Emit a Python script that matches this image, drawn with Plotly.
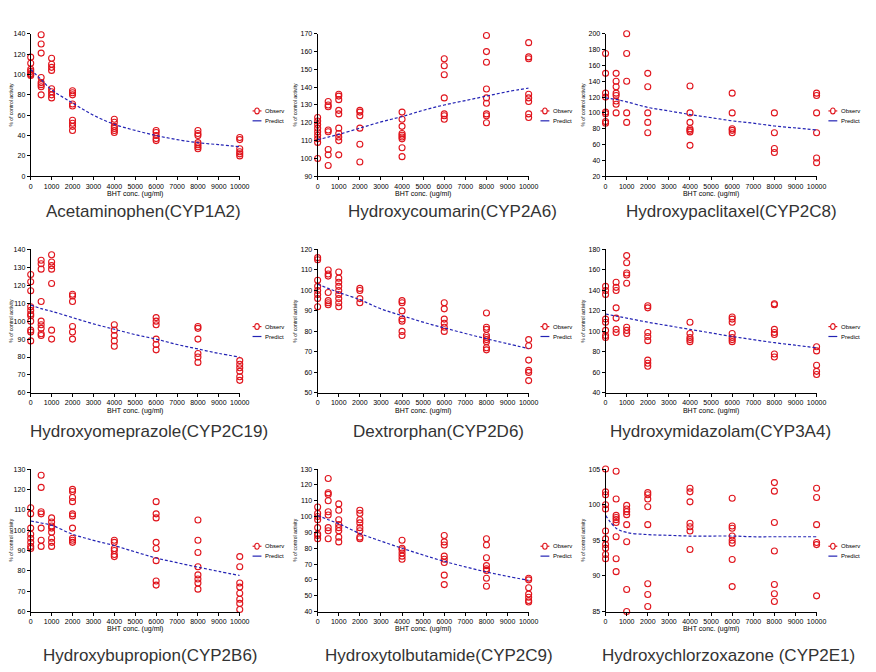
import plotly.graph_objects as go

# ---------------- data ----------------
CONC_LEVELS = [0, 500, 1000, 2000, 4000, 6000, 8000, 10000]
PRED_X = [0, 500, 1000, 2000, 3000, 4000, 5000, 6000, 7000, 8000, 9000, 10000]
X_TICKS = [0, 1000, 2000, 3000, 4000, 5000, 6000, 7000, 8000, 9000, 10000]

TITLES = [
    "Acetaminophen(CYP1A2)", "Hydroxycoumarin(CYP2A6)", "Hydroxypaclitaxel(CYP2C8)",
    "Hydroxyomeprazole(CYP2C19)", "Dextrorphan(CYP2D6)", "Hydroxymidazolam(CYP3A4)",
    "Hydroxybupropion(CYP2B6)", "Hydroxytolbutamide(CYP2C9)", "Hydroxychlorzoxazone (CYP2E1)",
]
LEGEND_NAMES = ["Observ", "Predict"]
X_TITLE = "BHT conc. (ug/ml)"
Y_TITLE = "% of control activity"

# observed values, one list per concentration level
obs_cyp1a2 = [[117, 111, 105, 103, 101, 100, 99], [139, 130, 121, 97, 92, 90, 88, 80],
              [116, 110, 107, 104, 86, 83, 80, 77], [84, 82, 80, 71, 69, 55, 52, 49, 45],
              [56, 53, 49, 47, 45, 43], [45, 43, 40, 37, 35], [45, 42, 40, 33, 31, 29, 27],
              [38, 36, 27, 24, 22, 20]]
obs_cyp2a6 = [[123, 121, 119, 117, 115, 113, 111, 109, 100], [132, 130, 129, 116, 115, 105, 102, 96],
              [136, 135, 133, 127, 125, 117, 114, 112, 110, 102], [127, 126, 124, 117, 108, 98],
              [126, 122, 118, 114, 113, 112, 111, 106, 101], [156, 152, 147, 134, 125, 124, 122],
              [169, 160, 154, 139, 134, 131, 125, 124, 120], [165, 157, 156, 136, 134, 132, 125, 123]]
obs_cyp2c8 = [[175, 150, 125, 120, 101, 99, 89, 87], [150, 140, 133, 125, 122, 115, 111, 100],
              [200, 175, 140, 100, 88], [150, 133, 100, 88, 75], [134, 100, 88, 80, 78, 76, 59],
              [125, 100, 80, 78, 75], [100, 75, 55, 50], [125, 122, 100, 75, 43, 37]]
obs_cyp2c19 = [[126, 122, 117, 108, 106, 104, 103, 100, 95, 94, 89], [134, 132, 129, 111, 100, 98, 96, 93, 92],
               [137, 133, 131, 129, 121, 95, 90], [115, 114, 111, 97, 94, 90], [98, 95, 92, 89, 86],
               [102, 100, 98, 90, 87, 84], [97, 96, 90, 82, 80, 77], [78, 76, 74, 72, 69, 67]]
obs_cyp2d6 = [[116, 115, 105, 102, 100, 98, 96, 92], [110, 108, 107, 99, 95, 94, 93],
              [109, 106, 104, 102, 100, 98, 96, 94, 92], [101, 100, 96, 94],
              [95, 94, 90, 86, 85, 80, 78], [94, 91, 86, 84, 82, 80],
              [89, 82, 81, 78, 77, 76, 75, 72, 71], [76, 73, 66, 61, 60, 56]]
obs_cyp3a4 = [[144, 140, 136, 112, 109, 101, 96, 94], [148, 143, 140, 123, 113, 102, 99],
              [174, 167, 157, 155, 147, 104, 101, 98], [125, 123, 99, 95, 91, 72, 69, 66],
              [109, 98, 94, 92, 90], [114, 112, 109, 98, 94, 92, 90],
              [127, 126, 102, 99, 97, 78, 75], [85, 81, 67, 61, 58]]
obs_cyp2b6 = [[111, 108, 101, 98, 96, 94, 92, 91], [127, 121, 109, 108, 101, 95, 92],
              [106, 104, 102, 101, 99, 96, 94, 92], [120, 119, 116, 114, 108, 107, 101, 96, 95, 94],
              [95, 94, 91, 90, 88, 87], [114, 108, 106, 94, 91, 85, 75, 73],
              [105, 95, 89, 82, 78, 76, 74, 71], [87, 82, 74, 72, 69, 66, 64, 61]]
obs_cyp2c9 = [[106, 102, 100, 98, 93, 89, 88, 86], [124, 115, 114, 110, 103, 101, 93, 91, 86],
              [108, 104, 98, 95, 93, 91, 87, 84], [104, 102, 98, 96, 93, 91, 87, 86],
              [85, 80, 79, 77, 75, 73], [88, 84, 82, 75, 73, 71, 63, 57],
              [86, 82, 74, 69, 67, 66, 61, 56], [61, 60, 55, 51, 49, 47, 46]]
obs_cyp2e1 = [[105, 101.8, 101.4, 100, 99.4, 96.3, 95.2, 94.4, 93.9, 93, 92.4],
              [104.7, 100.8, 98.5, 98.2, 97.9, 97.5, 95.5, 92.4, 90.6],
              [99.9, 99.4, 99, 98.6, 97.2, 94.8, 88.1, 85],
              [101.7, 101.4, 100.8, 99.7, 97.2, 88.9, 87.4, 85.7],
              [102.3, 101.8, 100.4, 97.4, 96.9, 96.3, 93.7],
              [100.9, 97, 96.7, 95.6, 95, 94.6, 92.3, 88.5],
              [103.1, 101.9, 97.5, 93.5, 88.8, 87.5, 86.4],
              [102.3, 101, 97.2, 94.7, 94.4, 87.2]]

# predicted values at PRED_X
pred_cyp1a2 = [105, 95, 85, 72, 60, 51, 45, 40, 36, 33, 31, 29]
pred_cyp2a6 = [110.5, 112, 113.5, 117, 120.5, 123.5, 127, 130, 132.5, 135, 137.5, 139.5]
pred_cyp2c8 = [119, 117, 114, 107, 102.5, 98, 94, 90, 87, 83.5, 81, 78.5]
pred_cyp2c19 = [109, 107, 105.5, 102, 98.5, 95.5, 92.5, 90, 87, 84.5, 82, 80]
pred_cyp2d6 = [103, 101, 99, 95.5, 91, 87.7, 84.5, 81.7, 79, 76.4, 74, 71.6]
pred_cyp3a4 = [117, 115, 113, 109, 105.5, 102, 98.5, 95, 92, 89, 86.5, 84]
pred_cyp2b6 = [104.5, 103.5, 102.4, 98, 95, 92.4, 89.3, 86.3, 84, 81.8, 79.7, 77.7]
pred_cyp2c9 = [100.7, 98, 95.5, 89.3, 84.5, 80, 75.7, 71.7, 68.2, 65, 62.2, 59.7]
pred_cyp2e1 = [98.5, 96.7, 96.1, 95.8, 95.7, 95.6, 95.6, 95.6, 95.5, 95.5, 95.5, 95.5]

OBS = [obs_cyp1a2, obs_cyp2a6, obs_cyp2c8, obs_cyp2c19, obs_cyp2d6, obs_cyp3a4,
       obs_cyp2b6, obs_cyp2c9, obs_cyp2e1]
PRED = [pred_cyp1a2, pred_cyp2a6, pred_cyp2c8, pred_cyp2c19, pred_cyp2d6, pred_cyp3a4,
        pred_cyp2b6, pred_cyp2c9, pred_cyp2e1]

Y_RANGES = [(0, 140, 20), (90, 170, 10), (20, 200, 20),
            (60, 140, 10), (50, 120, 10), (40, 180, 20),
            (60, 130, 10), (40, 130, 10), (85, 105, 5)]

# ---------------- layout geometry (page pixels) ----------------
PAGE_W, PAGE_H = 876, 672
OFF = 8                      # default body margin of the html page
W, H = PAGE_W - 2 * OFF, PAGE_H - 2 * OFF
COL_X = [(29, 241), (320, 534), (612, 826)]
ROW_Y = [(30, 174), (248, 393), (470, 614)]
TITLE_CX = [143, 457, 740, 149, 443, 729, 150, 443, 737]
TITLE_Y = [210, 432, 658]
LEG_X = [254, 546, 838]      # left end of legend key
LEG_Y = [108, 326, 548]      # row of first legend entry
LEG_DY = 10


def px(x):
    return (x - OFF) / W


def py(y):
    return 1 - (y - OFF) / H


FONT = "Liberation Sans, Arial, sans-serif"
RED = "#e0141c"
BLUE = "#2323b4"

fig = go.Figure()
layout = dict(
    width=W, height=H, margin=dict(l=0, r=0, t=0, b=0),
    paper_bgcolor="white", plot_bgcolor="white",
    font=dict(family=FONT, size=7, color="black"),
    showlegend=False, annotations=[], shapes=[],
)

for i in range(9):
    r, c = divmod(i, 3)
    n = i + 1
    xa = "x" if n == 1 else f"x{n}"
    ya = "y" if n == 1 else f"y{n}"
    xs, ys = [], []
    for lvl, vals in zip(CONC_LEVELS, OBS[i]):
        xs += [lvl] * len(vals)
        ys += vals
    fig.add_trace(go.Scatter(
        x=xs, y=ys, mode="markers", name=LEGEND_NAMES[0], xaxis=xa, yaxis=ya,
        marker=dict(symbol="circle-open", size=6, color=RED, line=dict(width=1.1, color=RED)),
        cliponaxis=False))
    fig.add_trace(go.Scatter(
        x=PRED_X, y=PRED[i], mode="lines", name=LEGEND_NAMES[1], xaxis=xa, yaxis=ya,
        line=dict(color=BLUE, width=1.2, dash="3px,2px"), line_shape="spline",
        cliponaxis=False))

    x0, x1 = COL_X[c]
    y0, y1 = ROW_Y[r]
    ymin, ymax, dt = Y_RANGES[i]
    xkey = "xaxis" if n == 1 else f"xaxis{n}"
    ykey = "yaxis" if n == 1 else f"yaxis{n}"
    layout[xkey] = dict(
        domain=[px(x0), px(x1)], anchor=ya, range=[0, 10000],
        tickvals=X_TICKS, ticktext=[str(v) for v in X_TICKS],
        showline=True, linecolor="black", linewidth=1, ticks="outside", ticklen=3,
        tickcolor="black", showgrid=False, zeroline=False, tickfont=dict(size=7),
        title=dict(text=X_TITLE, font=dict(size=7), standoff=2))
    layout[ykey] = dict(
        domain=[py(y1), py(y0)], anchor=xa, range=[ymin, ymax], dtick=dt,
        tick0=ymin, showline=True, linecolor="black", linewidth=1, ticks="outside",
        ticklen=3, tickcolor="black", showgrid=False, zeroline=False,
        tickfont=dict(size=7),
        title=dict(text=Y_TITLE, font=dict(size=5), standoff=2))

    # panel title
    layout["annotations"].append(dict(
        text=TITLES[i], x=px(TITLE_CX[i]), y=py(TITLE_Y[r]), xref="paper", yref="paper",
        xanchor="center", yanchor="middle", showarrow=False,
        font=dict(family=FONT, size=17, color="#333333")))

    # legend (key + label) beside each panel
    lx, ly = LEG_X[c], LEG_Y[r]
    for k, name in enumerate(LEGEND_NAMES):
        yy = ly + k * LEG_DY
        col = RED if k == 0 else BLUE
        layout["shapes"].append(dict(
            type="line", xref="paper", yref="paper",
            x0=px(lx), x1=px(lx + 9), y0=py(yy), y1=py(yy),
            line=dict(color=col, width=1.2)))
        if k == 0:
            layout["shapes"].append(dict(
                type="circle", xref="paper", yref="paper",
                x0=px(lx + 2.2), x1=px(lx + 6.8), y0=py(yy + 3), y1=py(yy - 3),
                line=dict(color=RED, width=1.1), fillcolor="white"))
        layout["annotations"].append(dict(
            text=name, x=px(lx + 11), y=py(yy), xref="paper", yref="paper",
            xanchor="left", yanchor="middle", showarrow=False,
            font=dict(family=FONT, size=6, color="black")))

fig.update_layout(**layout)
fig.write_html("out.html")
